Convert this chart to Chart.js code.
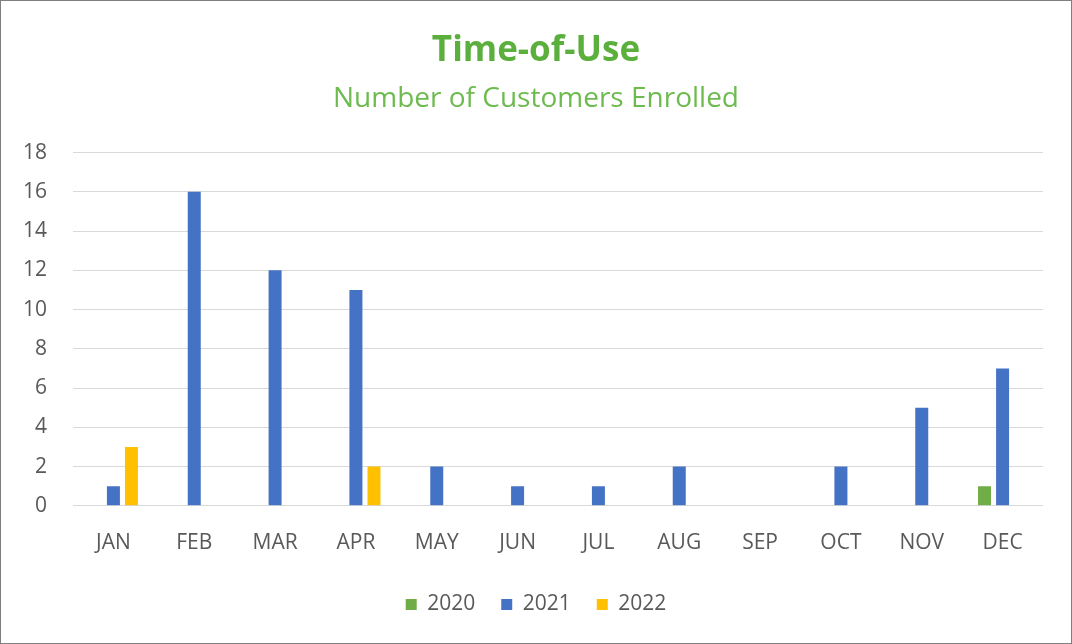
<!DOCTYPE html>
<html>
<head>
<meta charset="utf-8">
<script src="https://cdn.jsdelivr.net/npm/chart.js@4"></script>
<style>
  html, body { margin: 0; padding: 0; background: #fff; }
  #wrap { width: 1070px; height: 642px; border: 1px solid #7f7f7f; position: relative; }
</style>
</head>
<body>
<div id="wrap"><canvas id="graph_ID" width="1070" height="642"></canvas></div>
<script>
var months = ['JAN', 'FEB', 'MAR', 'APR', 'MAY', 'JUN', 'JUL', 'AUG', 'SEP', 'OCT', 'NOV', 'DEC'];
var data2020 = [null, null, null, null, null, null, null, null, null, null, null, 1];
var data2021 = [1, 16, 12, 11, 2, 1, 1, 2, null, 2, 5, 7];
var data2022 = [3, null, null, 2, null, null, null, null, null, null, null, null];
var yTicks = [0, 2, 4, 6, 8, 10, 12, 14, 16, 18];

var fontFam = "'Open Sans', 'Noto Sans', sans-serif";

function getSerie(label, data, color)
{
  return {
    label: label,
    data: data,
    backgroundColor: color,
    borderWidth: 0,
    barPercentage: 0.72,
    categoryPercentage: 0.67
  };
}

var ctx = document.getElementById("graph_ID").getContext("2d");
var graphique = new Chart(ctx, {
  type: 'bar',
  data: {
    labels: months,
    datasets: [
      getSerie('2020', data2020, '#70AD47'),
      getSerie('2021', data2021, '#4472C4'),
      getSerie('2022', data2022, '#FFC000')
    ]
  },
  options: {
    responsive: false,
    animation: false,
    layout: { padding: { left: 12, right: 12, top: 14, bottom: 18 } },
    scales: {
      x: {
        grid: { display: false },
        border: { display: false },
        afterFit: function (scale) { scale.height -= 5; },
        ticks: { color: '#595959', font: { family: fontFam, size: 21 }, padding: 17 }
      },
      y: {
        min: 0,
        max: 18,
        afterBuildTicks: function (scale) { scale.ticks = yTicks.map(function (v) { return { value: v }; }); },
        afterFit: function (scale) { scale.width = 60; },
        grid: { color: '#d9d9d9', drawTicks: false },
        border: { display: false },
        ticks: { color: '#595959', font: { family: fontFam, size: 21 }, padding: 26 }
      },
      // empty right axis, only keeps the plot area off the right edge
      y2: {
        position: 'right',
        min: 0,
        max: 1,
        afterFit: function (scale) { scale.width = 16; },
        grid: { display: false },
        border: { display: false },
        ticks: { display: false }
      }
    },
    plugins: {
      title: {
        display: true,
        text: 'Time-of-Use',
        color: '#5BAF3C',
        font: { family: fontFam, size: 35, weight: 'bold' },
        padding: { top: 15, bottom: 10 }
      },
      subtitle: {
        display: true,
        text: 'Number of Customers Enrolled',
        color: '#6DBB4F',
        font: { family: fontFam, size: 28 },
        padding: { bottom: 37 }
      },
      legend: {
        position: 'bottom',
        labels: {
          color: '#595959',
          font: { family: fontFam, size: 21 },
          boxWidth: 11,
          boxHeight: 11,
          padding: 26
        }
      },
      tooltip: { enabled: false }
    }
  }
});
</script>
</body>
</html>
